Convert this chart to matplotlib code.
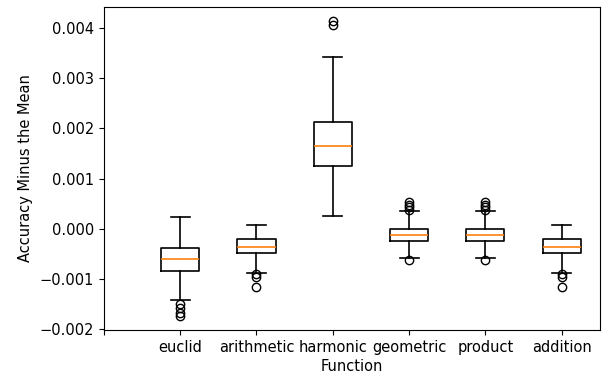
import matplotlib
matplotlib.use("Agg")
import matplotlib.pyplot as plt

labels = ["euclid", "arithmetic", "harmonic", "geometric", "product", "addition"]
whislo = [-0.00142, -0.00089, 0.00025, -0.00059, -0.00059, -0.00089]
q1 = [-0.00084, -0.00048, 0.00124, -0.000245, -0.000245, -0.00048]
med = [-0.00060, -0.00036, 0.00165, -0.000126, -0.000126, -0.00036]
q3 = [-0.00039, -0.00021, 0.00212, -0.000006, -0.000006, -0.00021]
whishi = [0.00023, 0.000074, 0.00342, 0.00035, 0.00035, 0.000074]
fliers = [
    [-0.00150, -0.00159, -0.00169, -0.00174],
    [-0.00091, -0.00096, -0.00116],
    [0.00407, 0.00415],
    [0.00038, 0.00043, 0.00048, 0.00053, -0.00062],
    [0.00038, 0.00043, 0.00048, 0.00053, -0.00062],
    [-0.00091, -0.00096, -0.00116],
]

plt.rcParams["font.size"] = 10.5

stats = []
for i, lab in enumerate(labels):
    stats.append(dict(label=lab, whislo=whislo[i], q1=q1[i], med=med[i],
                      q3=q3[i], whishi=whishi[i], fliers=fliers[i]))

fig = plt.figure(figsize=(6.04, 3.79), dpi=100)
ax = fig.add_axes([0.172, 0.1293, 0.821, 0.8522])
ax.bxp(stats, positions=range(1, len(labels) + 1),
       boxprops=dict(linewidth=1.2), whiskerprops=dict(linewidth=1.2),
       capprops=dict(linewidth=1.2), medianprops=dict(linewidth=1.2))
ax.set_xlim(0, 6.5)
ax.set_ylim(-0.00202, 0.00442)
ax.set_xticks(range(0, len(labels) + 1))
ax.set_xticklabels([""] + labels)
ax.set_yticks([-0.002, -0.001, 0.0, 0.001, 0.002, 0.003, 0.004])
ax.set_yticklabels(["\u22120.002", "\u22120.001", "0.000", "0.001", "0.002", "0.003", "0.004"])
ax.set_xlabel("Function", labelpad=3)
ax.set_ylabel("Accuracy Minus the Mean", labelpad=5)
fig.savefig("out.png", dpi=100)
